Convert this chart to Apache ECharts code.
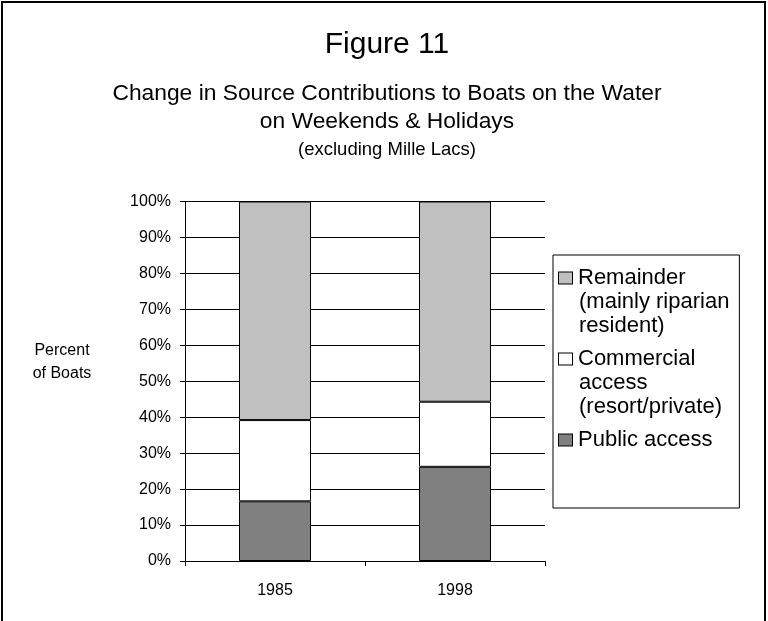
<!DOCTYPE html>
<html>
<head>
<meta charset="utf-8">
<script src="https://cdn.jsdelivr.net/npm/echarts@6/dist/echarts.min.js"></script>
<style>
  html, body { margin: 0; padding: 0; background: #fff; }
  #chart { width: 768px; height: 621px; }
</style>
</head>
<body>
<div id="chart"></div>
<script>
// Survey years
const years = ['1985', '1998'];

// Share of boats on the water (percent), stacked bottom to top
const publicAccess = [16.6, 26.2];
const commercialAccess = [22.6, 18.1];
const remainder = [60.8, 55.7];

// Y axis tick values (percent)
const yTicks = [0, 10, 20, 30, 40, 50, 60, 70, 80, 90, 100];

// Legend entries: series name -> wrapped label lines
const legendLines = {
  'Remainder': ['Remainder', '(mainly riparian', 'resident)'],
  'Commercial access': ['Commercial', 'access', '(resort/private)'],
  'Public access': ['Public access']
};

const FONT = '"Liberation Sans", Arial, sans-serif';
const colors = {
  'Remainder': '#c0c0c0',
  'Commercial access': '#ffffff',
  'Public access': '#808080'
};
const iconKey = {
  'Remainder': 'iR',
  'Commercial access': 'iC',
  'Public access': 'iP'
};

function iconStyle(color) {
  return {
    width: 13, height: 11,
    backgroundColor: color,
    borderColor: '#000', borderWidth: 1
  };
}

const chart = echarts.init(document.getElementById('chart'), null, { renderer: 'canvas' });

function barSeries(name, data) {
  return {
    name: name,
    type: 'bar',
    stack: 'total',
    barWidth: '40%',
    data: data,
    itemStyle: { color: colors[name], borderColor: '#000', borderWidth: 1 },
    emphasis: { disabled: true },
    animation: false
  };
}

const TITLE_X = 387;

const option = {
  backgroundColor: '#fff',
  animation: false,
  textStyle: { fontFamily: FONT, color: '#000' },
  title: [
    {
      text: 'Figure 11',
      left: TITLE_X,
      textAlign: 'center',
      top: 30,
      padding: 0,
      textStyle: { fontFamily: FONT, fontSize: 30, fontWeight: 'normal', color: '#000' }
    },
    {
      text: 'Change in Source Contributions to Boats on the Water\non Weekends & Holidays',
      left: TITLE_X,
      textAlign: 'center',
      top: 79,
      padding: 0,
      textStyle: { fontFamily: FONT, fontSize: 22.8, lineHeight: 28.5, fontWeight: 'normal', color: '#000' }
    },
    {
      text: '(excluding Mille Lacs)',
      left: TITLE_X,
      textAlign: 'center',
      top: 140,
      padding: 0,
      textStyle: { fontFamily: FONT, fontSize: 18.5, fontWeight: 'normal', color: '#000' }
    }
  ],
  grid: { left: 185, top: 201.5, width: 360, height: 359.5, containLabel: false },
  xAxis: {
    type: 'category',
    data: years,
    axisLine: { lineStyle: { color: '#000', width: 1 } },
    axisTick: { show: true, length: 5, lineStyle: { color: '#000' } },
    axisLabel: { color: '#000', fontFamily: FONT, fontSize: 16, margin: 22 },
    splitLine: { show: false }
  },
  yAxis: {
    type: 'value',
    min: yTicks[0],
    max: yTicks[yTicks.length - 1],
    interval: yTicks[1] - yTicks[0],
    axisLine: { show: true, lineStyle: { color: '#000', width: 1 } },
    axisTick: { show: true, length: 5, lineStyle: { color: '#000' } },
    axisLabel: { color: '#000', fontFamily: FONT, fontSize: 16, margin: 14, formatter: '{value}%' },
    splitLine: { show: true, lineStyle: { color: '#000', width: 1 } }
  },
  legend: {
    orient: 'vertical',
    left: 553,
    top: 255,
    icon: 'none',
    itemWidth: 0,
    itemHeight: 0,
    itemGap: 11,
    padding: [12, 10, 57, 1],
    borderColor: '#000',
    borderWidth: 1,
    backgroundColor: '#fff',
    selectedMode: false,
    data: ['Remainder', 'Commercial access', 'Public access'],
    formatter: function (name) {
      const lines = legendLines[name];
      return lines.map(function (line, i) {
        const lead = i === 0 ? '{' + iconKey[name] + '|}{sp|}' : '{gap|}';
        return lead + '{t|' + line + '}';
      }).join('\n');
    },
    textStyle: {
      fontFamily: FONT,
      color: '#000',
      rich: {
        iR: iconStyle(colors['Remainder']),
        iC: iconStyle(colors['Commercial access']),
        iP: iconStyle(colors['Public access']),
        sp: { width: 6 },
        gap: { width: 20 },
        t: { fontFamily: FONT, fontSize: 22, lineHeight: 24, color: '#000' }
      }
    }
  },
  graphic: [
    {
      // Value axis title, set horizontally to the left of the tick labels
      type: 'text',
      silent: true,
      style: {
        text: 'Percent\nof Boats',
        x: 62,
        y: 339.5,
        align: 'center',
        verticalAlign: 'top',
        lineHeight: 23,
        font: '16px "Liberation Sans", Arial, sans-serif',
        fill: '#000'
      }
    },
    {
      // Outer frame of the figure
      type: 'rect',
      silent: true,
      shape: { x: 2, y: 2, width: 763, height: 640 },
      style: { fill: null, stroke: '#000', lineWidth: 2 },
      z: 100
    }
  ],
  series: [
    barSeries('Public access', publicAccess),
    barSeries('Commercial access', commercialAccess),
    barSeries('Remainder', remainder)
  ]
};

chart.setOption(option);
</script>
</body>
</html>
